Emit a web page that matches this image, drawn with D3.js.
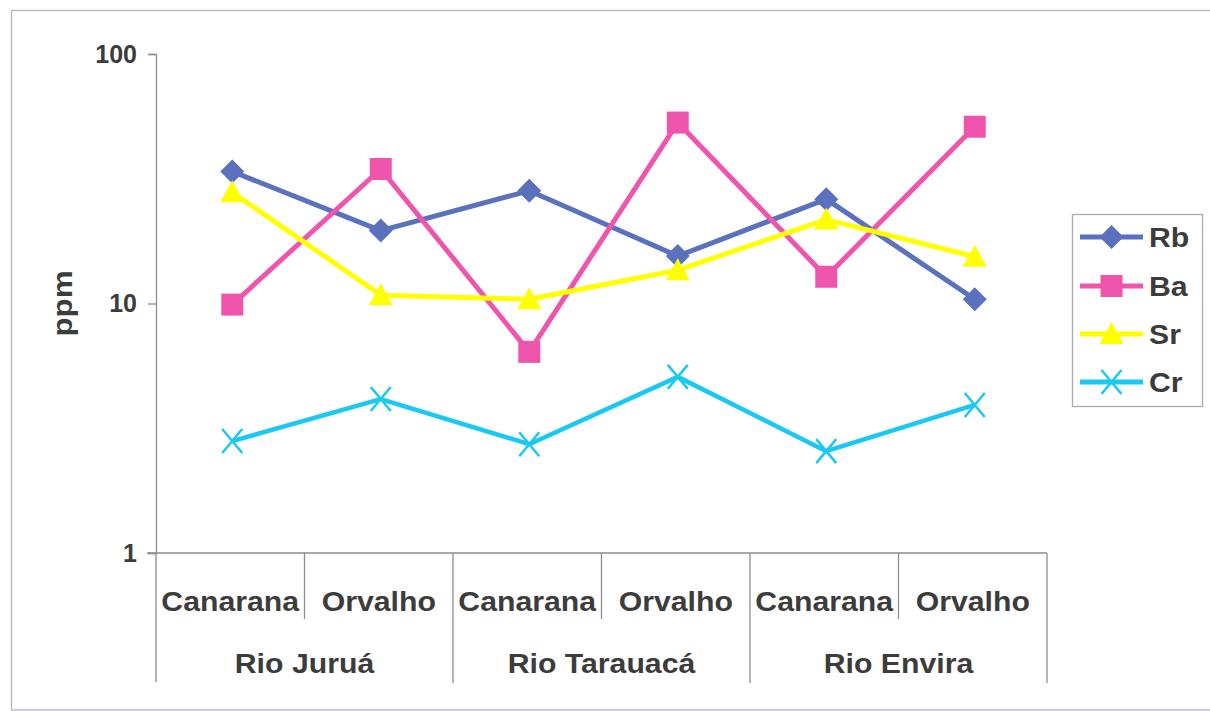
<!DOCTYPE html>
<html>
<head>
<meta charset="utf-8">
<script src="https://cdn.jsdelivr.net/npm/d3@7"></script>
<style>
  html, body { margin: 0; padding: 0; background: #fff; }
  svg { display: block; }
  text { font-family: "Liberation Sans", Arial, sans-serif; font-weight: bold; fill: #3c3c3c; }
</style>
</head>
<body>
<svg id="chart" width="1210" height="711"></svg>
<script>
// Sampling sites within each river
const sites = ["Canarana", "Orvalho"];
const rivers = ["Rio Juruá", "Rio Tarauacá", "Rio Envira"];

// Element concentrations (ppm), in order: Juruá C/O, Tarauacá C/O, Envira C/O
const rbValues = [33.8, 19.6, 28.3, 15.5, 26.2, 10.4];
const baValues = [9.9, 34.6, 6.4, 53.1, 12.8, 51.1];
const srValues = [27.9, 10.8, 10.4, 13.6, 21.7, 15.4];
const crValues = [2.81, 4.14, 2.73, 5.08, 2.56, 3.92];

const yTicks = [1, 10, 100];

const seriesNames = ["Rb", "Ba", "Sr", "Cr"];
const seriesValues = [rbValues, baValues, srValues, crValues];
const seriesColors = ["#5a71bd", "#f055ad", "#ffff00", "#19c9f2"];
const seriesMarkers = ["diamond", "square", "triangle", "cross"];

const categories = [];
rivers.forEach(r => sites.forEach(s => categories.push({ river: r, site: s })));

const svg = d3.select("#chart");
const wide = 1.12; // horizontal stretch of label lettering

// outer chart frame
svg.append("rect")
  .attr("x", 11.5).attr("y", 10.5)
  .attr("width", 1210).attr("height", 699.5)
  .attr("fill", "none").attr("stroke", "#b4b7c2").attr("stroke-width", 1.3);

const plot = { left: 156, right: 1047, top: 54, bottom: 553 };

const x = d3.scaleBand()
  .domain(d3.range(categories.length))
  .range([plot.left, plot.right])
  .paddingInner(0).paddingOuter(0);

// data points sit slightly right of each band's middle
const px = i => x(i) + x.bandwidth() / 2 + 2;

const y = d3.scaleLog()
  .domain([1, 100])
  .range([plot.bottom, plot.top]);

// y axis
const yAxis = d3.axisLeft(y)
  .tickValues(yTicks)
  .tickFormat(d3.format("d"))
  .tickSize(8)
  .tickPadding(11);

const yG = svg.append("g")
  .attr("transform", `translate(${plot.left},0)`)
  .call(yAxis);
yG.select(".domain").attr("stroke", "#8a8d96").attr("stroke-width", 1.3);
yG.selectAll(".tick line").attr("stroke", "#8a8d96").attr("stroke-width", 1.3);
yG.selectAll(".tick text")
  .attr("font-size", 25)
  .attr("font-family", "Liberation Sans, Arial, sans-serif")
  .attr("font-weight", "bold")
  .attr("fill", "#3c3c3c");

// y axis title
svg.append("text")
  .attr("transform", `translate(72,${(y(1) + y(100)) / 2}) rotate(-90) scale(${wide},1)`)
  .attr("text-anchor", "middle")
  .attr("font-size", 28)
  .text("ppm");

// x axis: baseline, category dividers and two-level labels
const axisColor = "#8a8d96";
svg.append("line")
  .attr("x1", plot.left - 9).attr("x2", plot.right)
  .attr("y1", plot.bottom).attr("y2", plot.bottom)
  .attr("stroke", axisColor).attr("stroke-width", 1.3);

// lower extension of the y axis through the label rows
svg.append("line")
  .attr("x1", plot.left).attr("x2", plot.left)
  .attr("y1", plot.bottom).attr("y2", 682)
  .attr("stroke", axisColor).attr("stroke-width", 1.3);

d3.range(1, categories.length + 1).forEach(i => {
  const xe = x(i - 1) + x.bandwidth();
  const groupEnd = i % sites.length === 0;
  svg.append("line")
    .attr("x1", xe).attr("x2", xe)
    .attr("y1", plot.bottom).attr("y2", groupEnd ? 683 : 619)
    .attr("stroke", axisColor).attr("stroke-width", 1.3);
});

svg.selectAll("text.site")
  .data(categories)
  .join("text")
  .attr("class", "site")
  .attr("transform", (d, i) => `translate(${x(i) + x.bandwidth() / 2},611) scale(${wide},1)`)
  .attr("text-anchor", "middle")
  .attr("font-size", 27)
  .text(d => d.site);

svg.selectAll("text.river")
  .data(rivers)
  .join("text")
  .attr("class", "river")
  .attr("transform", (d, i) => `translate(${x(i * sites.length) + x.bandwidth()},673) scale(${wide},1)`)
  .attr("text-anchor", "middle")
  .attr("font-size", 27)
  .text(d => d);

// marker shapes
function drawMarker(g, type, color, cx, cy) {
  if (type === "diamond") {
    g.append("path")
      .attr("d", `M${cx},${cy - 12}L${cx + 12},${cy}L${cx},${cy + 12}L${cx - 12},${cy}Z`)
      .attr("fill", color);
  } else if (type === "square") {
    g.append("rect")
      .attr("x", cx - 11).attr("y", cy - 11)
      .attr("width", 22).attr("height", 22)
      .attr("fill", color);
  } else if (type === "triangle") {
    g.append("path")
      .attr("d", `M${cx},${cy - 12}L${cx + 12},${cy + 10}L${cx - 12},${cy + 10}Z`)
      .attr("fill", color);
  } else {
    g.append("path")
      .attr("d", `M${cx - 10},${cy - 12}L${cx + 10},${cy + 12}M${cx + 10},${cy - 12}L${cx - 10},${cy + 12}`)
      .attr("stroke", color).attr("stroke-width", 2.5).attr("fill", "none");
  }
}

const line = d3.line()
  .x((d, i) => px(i))
  .y(d => y(d));

seriesNames.forEach((name, s) => {
  const g = svg.append("g").attr("class", "series-" + name);
  g.append("path")
    .datum(seriesValues[s])
    .attr("d", line)
    .attr("fill", "none")
    .attr("stroke", seriesColors[s])
    .attr("stroke-width", s === 3 ? 4.5 : 5)
    .attr("stroke-linejoin", "round");
  seriesValues[s].forEach((v, i) => {
    drawMarker(g, seriesMarkers[s], seriesColors[s], px(i), y(v));
  });
});

// legend
const legend = svg.append("g");
legend.append("rect")
  .attr("x", 1072.5).attr("y", 214.5)
  .attr("width", 130).attr("height", 192)
  .attr("fill", "#fff").attr("stroke", "#a9acb6").attr("stroke-width", 1.3);

const legendY = [237, 286, 334, 382];
seriesNames.forEach((name, s) => {
  const ly = legendY[s];
  legend.append("line")
    .attr("x1", 1080).attr("x2", 1143)
    .attr("y1", ly).attr("y2", ly)
    .attr("stroke", seriesColors[s]).attr("stroke-width", 5);
  drawMarker(legend, seriesMarkers[s], seriesColors[s], 1111.5, ly);
  legend.append("text")
    .attr("transform", `translate(1149,${ly + 10}) scale(${wide},1)`)
    .attr("font-size", 27)
    .text(name);
});
</script>
</body>
</html>
